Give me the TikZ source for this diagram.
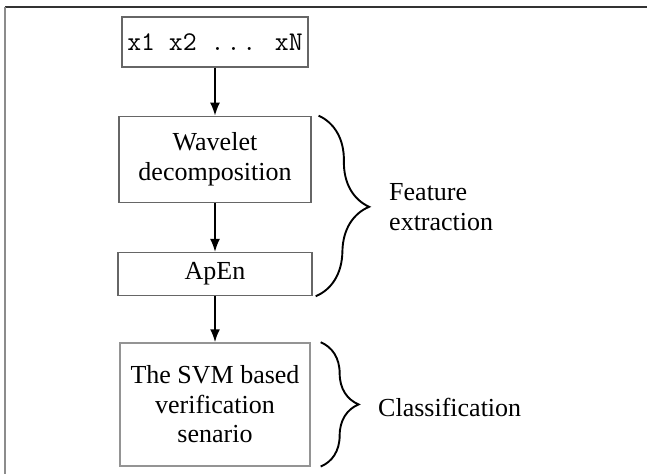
\documentclass[tikz,border=0pt]{standalone}
\usepackage{fontspec}
\setmainfont{Liberation Serif}
\usetikzlibrary{positioning,arrows.meta,decorations.pathreplacing}

\begin{document}
\begin{tikzpicture}[x=1pt,y=-1pt]

					\tikzstyle{caja} = [rectangle,draw=black!60,line width=1.3pt,fill=white,inner sep=0pt,align=center,font=\fontsize{26}{29.5}\selectfont]
					\tikzstyle{cajaclara} = [caja,draw=black!42]
					\tikzstyle{etiqueta} = [inner sep=0pt,align=left,anchor=west,font=\fontsize{26}{29.5}\selectfont]
					\tikzstyle{flecha} = [-{Latex[length=13pt,width=10pt]},line width=1.8pt]
					\tikzstyle{llave} = [decorate,line width=1.9pt]

					\useasboundingbox (0,0) rectangle (647,474);
					\draw[black!80,line width=2pt] (5,6.5) -- (647,6.5);
					\draw[black!45,line width=2pt] (5,6.5) -- (5,474);

					\node[caja,minimum width=186pt,minimum height=50pt] (senal) at (215,42) {\fontsize{27}{30}\ttfamily x1 x2 .\hspace{2pt}.\hspace{2pt}. xN};
					\node[caja,minimum width=192pt,minimum height=86pt,below=48pt of senal] (wavelet) {Wavelet\\decomposition};
					\node[caja,minimum width=194pt,minimum height=43pt,below=49pt of wavelet] (apen) {ApEn};
					\node[cajaclara,minimum width=190pt,minimum height=123pt,below=46pt of apen] (svm) {The SVM based\\verification\\senario};

					\draw[flecha] (senal) -- (wavelet);
					\draw[flecha] (wavelet) -- (apen);
					\draw[flecha] (apen) -- (svm);

					\draw[llave,decoration={brace,amplitude=52pt}] ([xshift=7pt]wavelet.north east) -- ([xshift=3pt]apen.south east);
					\draw[llave,decoration={brace,amplitude=38pt}] ([xshift=10pt]svm.north east) -- ([xshift=10pt]svm.south east);

					\node[etiqueta] (extraccion) at (389,207) {Feature\\extraction};
					\node[etiqueta] (clasif) at (378,407) {Classification};

				\end{tikzpicture}
\end{document}
